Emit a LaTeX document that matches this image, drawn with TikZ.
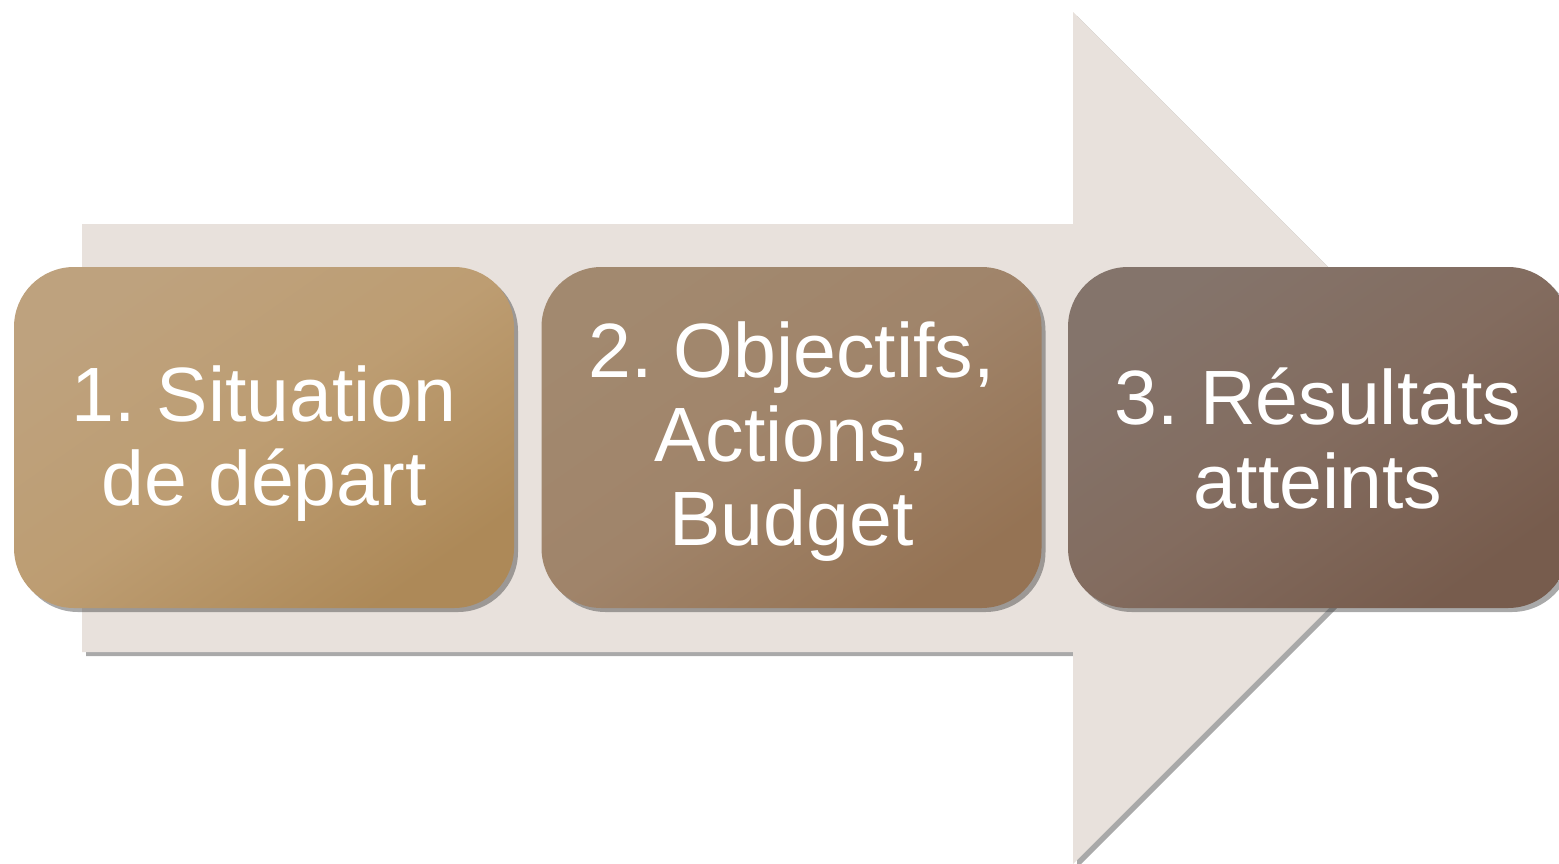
\documentclass[tikz,border=0pt]{standalone}
\usepackage{fontspec}
\setmainfont{Liberation Sans}
\usetikzlibrary{shadows}
\definecolor{arrowfill}{HTML}{E8E1DC}
\definecolor{aTL}{HTML}{BEA27E}
\definecolor{aMID}{HTML}{BD9D72}
\definecolor{aBR}{HTML}{AD8958}
\definecolor{bTL}{HTML}{A2896F}
\definecolor{bMID}{HTML}{A0846A}
\definecolor{bBR}{HTML}{957354}
\definecolor{cTL}{HTML}{84746B}
\definecolor{cMID}{HTML}{836C5F}
\definecolor{cBR}{HTML}{775C4D}
\tikzset{
  stagebox/.style={rounded corners=30pt, minimum width=250pt, minimum height=170.5pt,
    inner sep=0pt,
    drop shadow={shadow xshift=2pt, shadow yshift=-2pt, opacity=0.45, fill=black!75}},
  stagetext/.style={inner sep=0pt, align=center, text=white,
    font=\fontsize{38.5}{42}\selectfont},
  bigarrow/.style={fill=arrowfill,
    drop shadow={shadow xshift=2pt, shadow yshift=-2pt, opacity=0.45, fill=black!75}}
}
\begin{document}
\frenchspacing
\begin{tikzpicture}[x=0.5pt,y=-0.5pt]
\useasboundingbox (0,0) rectangle (1559,863);
\begin{scope}
\clip (0,0) rectangle (1559,863);
\path[bigarrow] (82,224) -- (1073,224) -- (1073,12) -- (1499,438) -- (1073,864) -- (1073,652) -- (82,652) -- cycle;
\node[stagebox, top color=aTL, bottom color=aBR, middle color=aMID, shading angle=35] (s1) at (264,437.5) {};
\node[stagebox, top color=bTL, bottom color=bBR, middle color=bMID, shading angle=35] (s2) at (791.5,437.5) {};
\node[stagebox, top color=cTL, bottom color=cBR, middle color=cMID, shading angle=35] (s3) at (1318,437.5) {};
\node[stagetext] (t1) at ([yshift=-3pt]s1.center) {1. Situation\\de départ};
\node[stagetext] (t2) at ([yshift=-2pt]s2.center) {2. Objectifs,\\Actions,\\Budget};
\node[stagetext] (t3) at ([yshift=-0.5pt]s3.center) {3. Résultats\\atteints};
\end{scope}
\end{tikzpicture}
\end{document}
